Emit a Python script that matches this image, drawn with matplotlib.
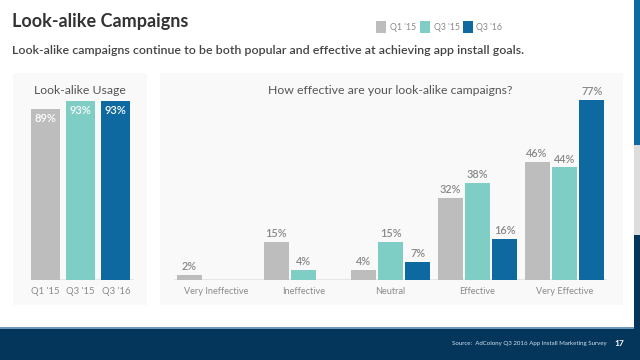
import matplotlib
matplotlib.use("Agg")
import matplotlib.pyplot as plt
from matplotlib.patches import Rectangle
import numpy as np

plt.rcParams['font.family'] = ['Lato', 'DejaVu Sans']

series = ["Q1 '15", "Q3 '15", "Q3 '16"]
colors = ["#bdbdbd", "#7fcec5", "#0f69a1"]

usage_values = [89, 93, 93]

categories = ["Very Ineffective", "Ineffective", "Neutral", "Effective", "Very Effective"]
eff_q1_15 = [2, 15, 4, 32, 46]
eff_q3_15 = [None, 4, 15, 38, 44]
eff_q3_16 = [None, None, 7, 16, 77]

W, H = 640, 360
fig = plt.figure(figsize=(6.4, 3.6), dpi=100)
fig.patch.set_facecolor("white")

def fx(px): return px / W
def fy(py): return 1 - py / H

def bg(x0, y0, x1, y1, color):
    fig.patches.append(Rectangle((fx(x0), fy(y1)), fx(x1) - fx(x0), fy(y0) - fy(y1),
                                 transform=fig.transFigure, facecolor=color, edgecolor="none", zorder=-10))

# panels
bg(13, 73, 147, 305, "#f9f9f9")
bg(160, 73, 623, 305, "#f9f9f9")
# footer
bg(0, 328, 640, 360, "#04365c")
bg(0, 326.5, 634, 328.5, "#6d98b8")
# right strip
bg(634, 0, 640, 145, "#0f69a1")
bg(634, 145, 640, 235, "#dddddd")
bg(634, 235, 640, 360, "#04365c")

# title / subtitle
fig.text(fx(12), fy(22), "Look-alike Campaigns", fontsize=13, fontweight="bold",
         color="#333333", va="center", ha="left")
fig.text(fx(12), fy(50), "Look-alike campaigns continue to be both popular and effective at achieving app install goals.",
         fontsize=8.9, color="#444444", va="center", ha="left", fontweight="semibold")

# legend
leg_x = [376, 420, 463]
for i, (s, c) in enumerate(zip(series, colors)):
    fig.patches.append(Rectangle((fx(leg_x[i]), fy(33)), fx(10), fy(21) - fy(33),
                                 transform=fig.transFigure, facecolor=c, edgecolor="none"))
    fig.text(fx(leg_x[i] + 13.5), fy(27), s, fontsize=6.3, color="#888888", va="center", ha="left")

# left chart
axl = fig.add_axes([fx(31), fy(280), fx(134) - fx(31), fy(100) - fy(280)])
axl.set_facecolor("none")
xl = np.arange(len(series))
bars = axl.bar(xl, usage_values, width=0.83, color=colors, zorder=2)
for b, v in zip(bars, usage_values):
    axl.annotate(f"{v}%", (b.get_x() + b.get_width() / 2, v), xytext=(0, -3),
                 textcoords="offset points", ha="center", va="top", color="white",
                 fontsize=8, fontweight="semibold")
axl.set_xlim(-0.42, 2.52)
axl.set_ylim(0, 93.5)
axl.axhline(0, color="#e3e3e3", lw=1.2, zorder=1)
for sp in axl.spines.values():
    sp.set_visible(False)
axl.set_yticks([])
axl.set_xticks(xl)
axl.set_xticklabels(series, fontsize=6.8, color="#8a8a8a")
axl.tick_params(axis="x", length=0, pad=5)
fig.text(fx(80), fy(90), "Look-alike Usage", fontsize=8.8, color="#555555", ha="center", va="center")

# right chart
axr = fig.add_axes([fx(174), fy(280), fx(607) - fx(174), fy(100) - fy(280)])
axr.set_facecolor("none")
xc = np.arange(len(categories))
off = 0.314
bw = 0.287
ymax = 70.3
for k, (vals, c) in enumerate(zip([eff_q1_15, eff_q3_15, eff_q3_16], colors)):
    xs = xc + (k - 1) * off
    for x, v in zip(xs, vals):
        if v is None:
            continue
        axr.bar(x, v, width=bw, color=c, zorder=2)
        axr.annotate(f"{v}%", (x, min(v, ymax)), xytext=(0, 2), textcoords="offset points",
                     ha="center", va="bottom", color="#888888", fontsize=7.8,
                     fontweight="semibold", annotation_clip=False)
axr.set_xlim(-0.49, 4.49)
axr.set_ylim(0, ymax)
axr.axhline(0, color="#e3e3e3", lw=1.2, zorder=1)
for sp in axr.spines.values():
    sp.set_visible(False)
axr.set_yticks([])
axr.set_xticks(xc)
axr.set_xticklabels(categories, fontsize=6.6, color="#8a8a8a")
axr.tick_params(axis="x", length=0, pad=5)
fig.text(fx(390), fy(90), "How effective are your look-alike campaigns?", fontsize=8.8,
         color="#555555", ha="center", va="center")

# footer text
fig.text(fx(607), fy(343), "Source:  AdColony Q3 2016 App Install Marketing Survey", fontsize=4.4,
         color="#cfe0ee", ha="right", va="center")
fig.text(fx(614), fy(343), "17", fontsize=6, color="white", ha="left", va="center", fontweight="bold")

fig.savefig("out.png", dpi=100)
